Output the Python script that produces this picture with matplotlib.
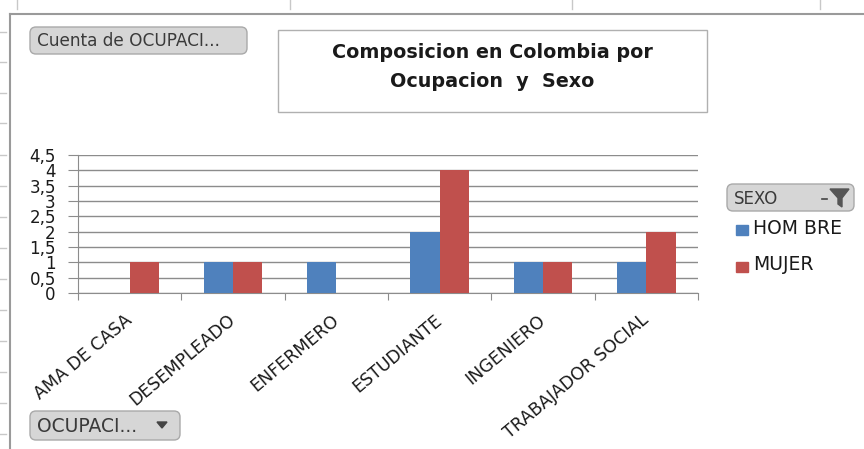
import numpy as np
import matplotlib.pyplot as plt
from matplotlib.patches import FancyBboxPatch, Rectangle
from matplotlib.transforms import ScaledTranslation

plt.rcParams['font.family'] = ['DejaVu Sans']

categorias = ["AMA DE CASA", "DESEMPLEADO", "ENFERMERO", "ESTUDIANTE", "INGENIERO", "TRABAJADOR SOCIAL"]
hombre = [0, 1, 1, 2, 1, 1]
mujer = [1, 1, 0, 4, 1, 2]
yticks = [0, 0.5, 1, 1.5, 2, 2.5, 3, 3.5, 4, 4.5]
ytick_labels = ["0", "0,5", "1", "1,5", "2", "2,5", "3", "3,5", "4", "4,5"]
titulo = "Composicion en Colombia por\nOcupacion  y  Sexo"

azul = "#4F81BD"
rojo = "#C0504D"
texto = "#1A1A1A"

W, H = 864, 449
fig = plt.figure(figsize=(W / 100, H / 100), dpi=100)

# background layer in pixel coords (sheet frame, buttons, title box)
bg = fig.add_axes([0, 0, 1, 1])
bg.set_xlim(0, W)
bg.set_ylim(H, 0)
bg.axis('off')

bg.plot([10, 10], [14, H], color="#9A9A9A", lw=1.5)
bg.plot([10, W], [14, 14], color="#9A9A9A", lw=1.5)
for yy in [32, 62, 93, 123, 155, 186, 217, 248, 279, 310, 341, 372, 403, 434]:
    bg.plot([0, 6], [yy, yy], color="#C8C8C8", lw=1)
for xx in [17, 290, 572, 820]:
    bg.plot([xx, xx], [0, 9], color="#C8C8C8", lw=1)


def boton(x0, y0, x1, y1, txt, fs):
    p = FancyBboxPatch((x0, y0), x1 - x0, y1 - y0, boxstyle="round,pad=0,rounding_size=6",
                       facecolor="#D6D6D6", edgecolor="#A9A9A9", lw=1)
    bg.add_patch(p)
    bg.text(x0 + 7, (y0 + y1) / 2 + 1, txt, fontsize=fs, color="#3A3A3A", va='center', ha='left')


boton(30, 27, 247, 54, "Cuenta de OCUPACI...", 12.2)
boton(30, 411, 180, 440, "OCUPACI...", 13.5)
bg.fill([157, 167, 162], [422, 422, 428], color="#444444")
boton(727, 184, 854, 211, "SEXO", 12)
bg.plot([822, 827], [199, 199], color="#444444", lw=1.2)
bg.fill([830, 849, 842, 842, 838, 838], [189, 189, 198, 207, 204, 198], color="#555555")

# title box
bg.add_patch(Rectangle((278, 30), 429, 82, facecolor="white", edgecolor="#B0B0B0", lw=1))
bg.text(492, 67, titulo, fontsize=13.8, fontweight='bold', ha='center', va='center',
        linespacing=1.7, color=texto)

# legend
bg.add_patch(Rectangle((736, 225), 12, 10, color=azul))
bg.text(753, 228, "HOM BRE", fontsize=13.5, va='center', color=texto)
bg.add_patch(Rectangle((736, 262), 12, 10, color=rojo))
bg.text(753, 265, "MUJER", fontsize=13.5, va='center', color=texto)

# main chart
ax = fig.add_axes([78 / W, 1 - 293 / H, (698 - 78) / W, (293 - 155) / H])
ax.patch.set_alpha(0)
x = np.arange(len(categorias))
bw = 0.285
ax.bar(x - bw / 2, hombre, bw, color=azul, zorder=3)
ax.bar(x + bw / 2, mujer, bw, color=rojo, zorder=3)

ax.set_xlim(-0.5, len(categorias) - 0.5)
ax.set_ylim(0, 4.5)
ax.set_yticks(yticks)
ax.set_yticklabels(ytick_labels, fontsize=12, color=texto)
ax.yaxis.grid(True, color="#8C8C8C", lw=1)
ax.set_axisbelow(True)
for s in ['top', 'right']:
    ax.spines[s].set_visible(False)
for s in ['left', 'bottom']:
    ax.spines[s].set_color("#8C8C8C")
ax.tick_params(axis='y', length=7, color="#8C8C8C", pad=9)

ax.set_xticks(np.arange(len(categorias) + 1) - 0.5)
ax.set_xticklabels([])
ax.tick_params(axis='x', length=5, color="#8C8C8C", direction='out')
off = ScaledTranslation(0 / 100, -25 / 100, fig.dpi_scale_trans)
for i, c in enumerate(categorias):
    ax.text(i, 0, c, transform=ax.get_xaxis_transform() + off, rotation=40,
            ha='right', va='center', rotation_mode='anchor', fontsize=12.5, color=texto)

fig.savefig("out.png", dpi=100)
